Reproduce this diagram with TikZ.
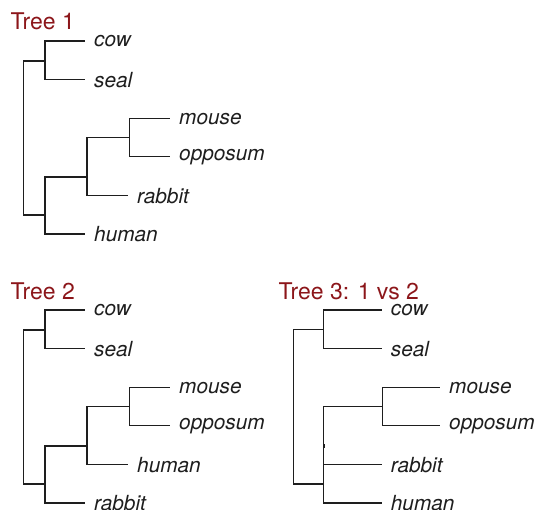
\documentclass[tikz,border=0pt]{standalone}
\usepackage{fontspec}
\setmainfont{TeX Gyre Heros}
\definecolor{titlered}{RGB}{140,22,26}
\definecolor{inkgrey}{RGB}{30,30,30}
\begin{document}
\begin{tikzpicture}[x=1pt,y=-1pt,
  edge/.style={draw=inkgrey,line width=1.25pt,line join=miter},
  leaf/.style={anchor=west,inner sep=0pt,xshift=9pt,yshift=-0.5pt,text=inkgrey,
    font=\fontsize{20.8}{22}\selectfont\itshape},
  treetitle/.style={anchor=base west,inner sep=0pt,text=titlered,
    font=\fontsize{23}{25}\selectfont}]
\useasboundingbox (0,0) rectangle (537,510);
% ---------- Tree 1 ----------
\node[treetitle] (t1) at (10.5,30) {Tree 1};
\coordinate (r1) at (23.3,138);
\coordinate (cs1) at (45,61);
\coordinate (rest1) at (45,215);
\coordinate (mor1) at (87,177);
\coordinate (mo1) at (129.3,137.5);
\coordinate (cow1) at (85,41);
\coordinate (seal1) at (85,79.6);
\coordinate (mouse1) at (170,118.2);
\coordinate (opp1) at (170,156.8);
\coordinate (rab1) at (128,195.4);
\coordinate (hum1) at (85,234);
\draw[edge] (r1) |- (cs1);
\draw[edge] (r1) |- (rest1);
\draw[edge] (cs1) |- (cow1);
\draw[edge] (cs1) |- (seal1);
\draw[edge] (rest1) |- (mor1);
\draw[edge] (rest1) |- (hum1);
\draw[edge] (mor1) |- (mo1);
\draw[edge] (mor1) |- (rab1);
\draw[edge] (mo1) |- (mouse1);
\draw[edge] (mo1) |- (opp1);
\node[leaf] (lcow1) at (cow1) {cow};
\node[leaf] (lseal1) at (seal1) {seal};
\node[leaf] (lmouse1) at (mouse1) {mouse};
\node[leaf] (lopp1) at (opp1) {opposum};
\node[leaf] (lrab1) at (rab1) {rabbit};
\node[leaf] (lhum1) at (hum1) {human};
% ---------- Tree 2 ----------
\node[treetitle] (t2) at (10.5,299) {Tree 2};
\coordinate (r2) at (23.3,407);
\coordinate (cs2) at (45,330);
\coordinate (rest2) at (45,484);
\coordinate (moh2) at (87,446);
\coordinate (mo2) at (129.3,406.5);
\coordinate (cow2) at (85,310);
\coordinate (seal2) at (85,348.6);
\coordinate (mouse2) at (170,387.2);
\coordinate (opp2) at (170,425.8);
\coordinate (hum2) at (128,464.4);
\coordinate (rab2) at (85,503);
\draw[edge] (r2) |- (cs2);
\draw[edge] (r2) |- (rest2);
\draw[edge] (cs2) |- (cow2);
\draw[edge] (cs2) |- (seal2);
\draw[edge] (rest2) |- (moh2);
\draw[edge] (rest2) |- (rab2);
\draw[edge] (moh2) |- (mo2);
\draw[edge] (moh2) |- (hum2);
\draw[edge] (mo2) |- (mouse2);
\draw[edge] (mo2) |- (opp2);
\node[leaf] (lcow2) at (cow2) {cow};
\node[leaf] (lseal2) at (seal2) {seal};
\node[leaf] (lmouse2) at (mouse2) {mouse};
\node[leaf] (lopp2) at (opp2) {opposum};
\node[leaf] (lhum2) at (hum2) {human};
\node[leaf] (lrab2) at (rab2) {rabbit};
% ---------- Tree 3 ----------
\node[treetitle] (t3) at (278.5,299) {Tree 3: 1 vs 2};
\coordinate (r3) at (293.3,407);
\coordinate (cs3) at (323.3,329.5);
\coordinate (low3) at (323.3,484);
\coordinate (mo3) at (382.7,406.5);
\coordinate (cow3) at (381.7,310);
\coordinate (seal3) at (381.7,348.6);
\coordinate (mouse3) at (440,387.2);
\coordinate (opp3) at (440,425.8);
\coordinate (rab3) at (381.7,464.4);
\coordinate (hum3) at (381.7,503);
\coordinate (tickA) at (324.4,444);
\coordinate (tickB) at (324.4,448);
\draw[edge] (r3) |- (cs3);
\draw[edge] (r3) |- (low3);
\draw[edge] (cs3) |- (cow3);
\draw[edge] (cs3) |- (seal3);
\draw[edge] (low3) |- (mo3);
\draw[edge] (low3) |- (rab3);
\draw[edge] (low3) |- (hum3);
\draw[edge] (mo3) |- (mouse3);
\draw[edge] (mo3) |- (opp3);
\draw[draw=inkgrey,line width=1pt] (tickA) -- (tickB);
\node[leaf] (lcow3) at (cow3) {cow};
\node[leaf] (lseal3) at (seal3) {seal};
\node[leaf] (lmouse3) at (mouse3) {mouse};
\node[leaf] (lopp3) at (opp3) {opposum};
\node[leaf] (lrab3) at (rab3) {rabbit};
\node[leaf] (lhum3) at (hum3) {human};
\end{tikzpicture}
\end{document}
